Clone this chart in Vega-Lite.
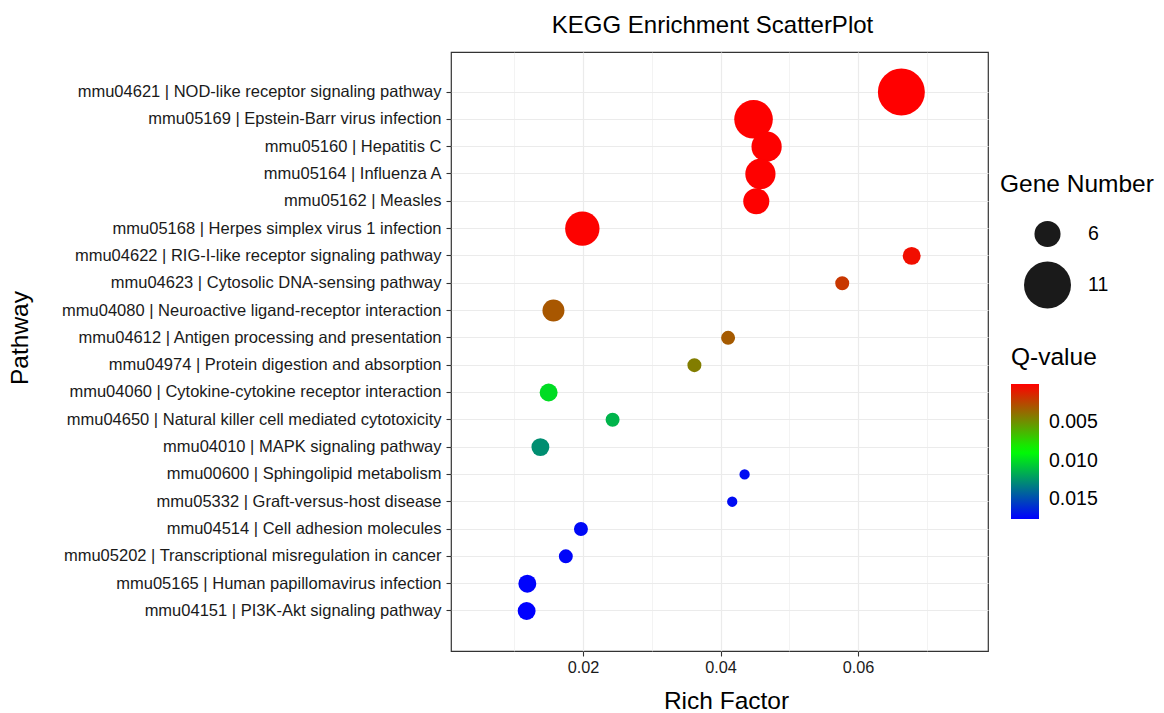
{
  "$schema": "https://vega.github.io/schema/vega-lite/v6.json",
  "width": 537,
  "height": 599,
  "autosize": "none",
  "padding": {"left": 451, "top": 52, "right": 176, "bottom": 62},
  "background": "white",
  "title": {
    "text": "KEGG Enrichment ScatterPlot",
    "fontSize": 24,
    "fontWeight": "normal",
    "color": "#000000",
    "anchor": "middle",
    "frame": "group",
    "dx": -7,
    "baseline": "alphabetic",
    "offset": -4.5
  },
  "data": {
    "values": [
      {"pathway": "mmu04621 | NOD-like receptor signaling pathway", "rich": 0.0663, "count": 11, "q": 0.00001},
      {"pathway": "mmu05169 | Epstein-Barr virus infection", "rich": 0.0448, "count": 9, "q": 0.00002},
      {"pathway": "mmu05160 | Hepatitis C", "rich": 0.0467, "count": 7, "q": 0.00003},
      {"pathway": "mmu05164 | Influenza A", "rich": 0.0458, "count": 7, "q": 0.00004},
      {"pathway": "mmu05162 | Measles", "rich": 0.0452, "count": 6, "q": 0.00005},
      {"pathway": "mmu05168 | Herpes simplex virus 1 infection", "rich": 0.0199, "count": 8, "q": 0.00008},
      {"pathway": "mmu04622 | RIG-I-like receptor signaling pathway", "rich": 0.0678, "count": 4, "q": 0.0005},
      {"pathway": "mmu04623 | Cytosolic DNA-sensing pathway", "rich": 0.0577, "count": 3, "q": 0.0019},
      {"pathway": "mmu04080 | Neuroactive ligand-receptor interaction", "rich": 0.0157, "count": 5, "q": 0.0030},
      {"pathway": "mmu04612 | Antigen processing and presentation", "rich": 0.0411, "count": 3, "q": 0.0031},
      {"pathway": "mmu04974 | Protein digestion and absorption", "rich": 0.0362, "count": 3, "q": 0.0043},
      {"pathway": "mmu04060 | Cytokine-cytokine receptor interaction", "rich": 0.0150, "count": 4, "q": 0.0100},
      {"pathway": "mmu04650 | Natural killer cell mediated cytotoxicity", "rich": 0.0243, "count": 3, "q": 0.0114},
      {"pathway": "mmu04010 | MAPK signaling pathway", "rich": 0.0138, "count": 4, "q": 0.0127},
      {"pathway": "mmu00600 | Sphingolipid metabolism", "rich": 0.0435, "count": 2, "q": 0.0172},
      {"pathway": "mmu05332 | Graft-versus-host disease", "rich": 0.0417, "count": 2, "q": 0.0172},
      {"pathway": "mmu04514 | Cell adhesion molecules", "rich": 0.0197, "count": 3, "q": 0.0173},
      {"pathway": "mmu05202 | Transcriptional misregulation in cancer", "rich": 0.0175, "count": 3, "q": 0.0174},
      {"pathway": "mmu05165 | Human papillomavirus infection", "rich": 0.0119, "count": 4, "q": 0.0175},
      {"pathway": "mmu04151 | PI3K-Akt signaling pathway", "rich": 0.0118, "count": 4, "q": 0.0176}
    ]
  },
  "mark": {"type": "circle", "opacity": 1, "strokeWidth": 0},
  "encoding": {
    "x": {
      "field": "rich",
      "type": "quantitative",
      "title": "Rich Factor",
      "scale": {"domain": [0.0008, 0.0789], "nice": false, "zero": false},
      "axis": {
        "values": [0.01, 0.02, 0.03, 0.04, 0.05, 0.06, 0.07],
        "labelExpr": "indexof(['0.02','0.04','0.06'], format(datum.value, '.2f')) >= 0 ? format(datum.value, '.2f') : ''",
        "tickOpacity": {"condition": {"test": "indexof(['0.02','0.04','0.06'], format(datum.value, '.2f')) >= 0", "value": 1}, "value": 0},
        "gridWidth": {"condition": {"test": "indexof(['0.02','0.04','0.06'], format(datum.value, '.2f')) >= 0", "value": 1.2}, "value": 0.6},
        "labelFontSize": 16.3,
        "labelPadding": 3,
        "labelOverlap": false,
        "titleX": 275,
        "titleY": 57,
        "titleBaseline": "alphabetic",
        "titleAlign": "center"
      }
    },
    "y": {
      "field": "pathway",
      "type": "nominal",
      "sort": null,
      "title": "Pathway",
      "scale": {"type": "band", "paddingInner": 0, "paddingOuter": 0.965},
      "axis": {
        "bandPosition": 0.5,
        "labelFontSize": 16.5,
        "labelPadding": 5,
        "labelLimit": 600,
        "gridWidth": 1.2,
        "titleX": -424,
        "titleY": 285.5,
        "titleAngle": -90,
        "titleBaseline": "alphabetic",
        "titleAlign": "center"
      }
    },
    "size": {
      "field": "count",
      "type": "quantitative",
      "scale": {"type": "pow", "exponent": 2, "domain": [2, 11], "range": [106, 2206], "zero": false, "nice": false},
      "legend": {
        "title": "Gene Number",
        "orient": "none",
        "legendX": 549,
        "legendY": 121,
        "values": [6, 11],
        "symbolType": "circle",
        "symbolFillColor": "#1a1a1a",
        "symbolStrokeWidth": 0,
        "symbolOpacity": 1,
        "symbolOffset": 24,
        "labelOffset": 17,
        "titlePadding": 23,
        "rowPadding": 14
      }
    },
    "color": {
      "field": "q",
      "type": "quantitative",
      "scale": {"domain": [0.0176, 0.0088, 0], "range": ["#0000FF", "#00FF00", "#FF0000"], "interpolate": "rgb", "zero": false, "nice": false},
      "legend": {
        "title": "Q-value",
        "orient": "none",
        "legendX": 560,
        "legendY": 294,
        "direction": "vertical",
        "values": [0.005, 0.01, 0.015],
        "format": ".3f",
        "gradientLength": 135,
        "gradientThickness": 28,
        "gradientStrokeWidth": 0,
        "labelOffset": 10,
        "titlePadding": 13.5
      }
    }
  },
  "config": {
    "font": "Liberation Sans",
    "view": {"stroke": "#333333", "strokeWidth": 1.2},
    "axis": {
      "domain": false,
      "grid": true,
      "gridColor": "#EBEBEB",
      "tickColor": "#333333",
      "tickSize": 5,
      "tickWidth": 1.1,
      "labelColor": "#1a1a1a",
      "labelFont": "Liberation Sans",
      "titleFont": "Liberation Sans",
      "titleFontSize": 24.5,
      "titleFontWeight": "normal",
      "titleColor": "#000000"
    },
    "legend": {
      "titleFontSize": 24.5,
      "titleFontWeight": "normal",
      "titleColor": "#000000",
      "titleFont": "Liberation Sans",
      "labelFont": "Liberation Sans",
      "labelFontSize": 19.5,
      "labelColor": "#000000",
      "padding": 0
    }
  }
}
